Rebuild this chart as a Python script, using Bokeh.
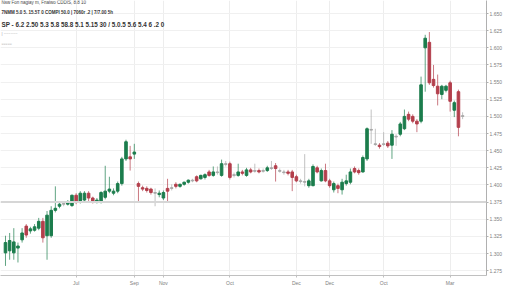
from bokeh.plotting import figure
from bokeh.models import Range1d, FixedTicker, Span, Label, ColumnDataSource, NumeralTickFormatter
from bokeh.embed import file_html
from bokeh.resources import INLINE

# ---- data ----
opens = [1.301,1.304,1.301,1.308,1.320,1.340,1.333,1.334,1.337,1.347,
         1.326,1.326,1.363,1.369,1.372,1.372,1.370,1.385,1.376,1.378,
         1.388,1.381,1.376,1.375,1.382,1.391,1.388,1.391,1.402,1.438,
         1.441,1.445,1.402,1.396,1.395,1.394,1.389,1.386,1.381,1.395,
         1.395,1.401,1.398,1.401,1.404,1.406,1.412,1.409,1.411,1.419,
         1.414,1.418,1.414,1.430,1.431,1.414,1.414,1.419,1.414,1.422,
         1.421,1.421,1.420,1.421,1.424,1.428,1.421,1.419,1.419,1.419,
         1.412,1.406,1.404,1.399,1.399,1.425,1.406,1.421,1.406,1.393,
         1.399,1.393,1.402,1.404,1.424,1.421,1.419,1.438,1.480,1.460,
         1.458,1.460,1.461,1.458,1.470,1.474,1.482,1.503,1.500,1.493,
         1.493,1.600,1.608,1.554,1.544,1.532,1.538,1.549,1.509,1.536,
         1.500]
highs = [1.326,1.330,1.337,1.316,1.337,1.343,1.339,1.343,1.352,1.352,
         1.362,1.369,1.398,1.375,1.376,1.378,1.386,1.388,1.391,1.391,
         1.391,1.383,1.381,1.391,1.428,1.412,1.395,1.405,1.441,1.466,
         1.457,1.460,1.405,1.399,1.398,1.396,1.395,1.392,1.392,1.409,
         1.401,1.404,1.402,1.405,1.408,1.409,1.414,1.415,1.417,1.422,
         1.427,1.427,1.437,1.435,1.434,1.418,1.431,1.422,1.425,1.425,
         1.431,1.424,1.424,1.428,1.435,1.432,1.424,1.422,1.422,1.422,
         1.415,1.409,1.445,1.409,1.430,1.428,1.424,1.431,1.409,1.405,
         1.402,1.409,1.415,1.424,1.427,1.424,1.443,1.484,1.510,1.482,
         1.461,1.477,1.464,1.480,1.474,1.492,1.510,1.507,1.503,1.496,
         1.558,1.619,1.623,1.575,1.561,1.546,1.546,1.552,1.523,1.539,
         1.506]
lows = [1.282,1.291,1.291,1.287,1.316,1.323,1.329,1.332,1.334,1.316,
        1.291,1.323,1.360,1.366,1.369,1.370,1.368,1.372,1.373,1.375,
        1.376,1.373,1.373,1.373,1.379,1.388,1.385,1.388,1.399,1.435,
        1.421,1.438,1.376,1.391,1.389,1.386,1.369,1.382,1.378,1.376,
        1.392,1.395,1.396,1.399,1.402,1.404,1.404,1.408,1.408,1.412,
        1.412,1.415,1.412,1.427,1.408,1.411,1.412,1.414,1.412,1.417,
        1.418,1.417,1.418,1.419,1.422,1.405,1.418,1.415,1.414,1.391,
        1.404,1.402,1.398,1.396,1.398,1.417,1.405,1.404,1.396,1.389,
        1.388,1.386,1.399,1.401,1.417,1.415,1.418,1.435,1.460,1.457,
        1.453,1.457,1.454,1.438,1.457,1.471,1.480,1.493,1.490,1.477,
        1.490,1.536,1.546,1.542,1.516,1.525,1.535,1.507,1.499,1.471,
        1.496]
closes = [1.316,1.319,1.317,1.311,1.330,1.327,1.336,1.339,1.347,1.323,
          1.356,1.363,1.366,1.372,1.373,1.375,1.385,1.375,1.388,1.388,
          1.381,1.376,1.378,1.389,1.391,1.394,1.391,1.402,1.438,1.463,
          1.438,1.448,1.398,1.394,1.392,1.389,1.388,1.388,1.389,1.391,
          1.396,1.398,1.401,1.404,1.407,1.407,1.406,1.414,1.415,1.414,
          1.419,1.419,1.431,1.431,1.411,1.415,1.419,1.417,1.422,1.419,
          1.420,1.419,1.421,1.425,1.425,1.424,1.420,1.418,1.417,1.411,
          1.406,1.405,1.405,1.406,1.427,1.419,1.421,1.406,1.399,1.402,
          1.395,1.404,1.406,1.419,1.419,1.418,1.440,1.482,1.481,1.459,
          1.456,1.459,1.457,1.474,1.471,1.489,1.500,1.496,1.493,1.489,
          1.546,1.614,1.549,1.545,1.533,1.544,1.544,1.522,1.520,1.484,
          1.501]

y_ticks = [1.275,1.300,1.325,1.350,1.375,1.400,1.425,1.450,1.475,
           1.500,1.525,1.550,1.575,1.600,1.625,1.650]
x_label_at = [17, 31, 38, 54, 70, 78, 91, 107]
x_labels = ["Jul", "Sep", "Nov", "Oct", "Dec", "Dec", "Oct", "Mar"]

hline_value = 1.375
tag_values = [1.425, 1.411, 1.399]
tag_colors = ["#8c2a35", "#1d7a4c", "#c0505c"]

header1 = "Nsw Fon nagiay m, Fnalwo CDDIS, 8.8 10"
header2 = "7NMM 5.0 5. 15.5T 0 COMPI 50.0 | 7060r .2 | 7/7.00 5h"
header3 = "SP - 6.2  2.50  5.3  5.8  58.8  5.1  5.15  30 / 5.0.5  5.6  5.4  6 .2 0"

GREEN = "#1c7d4d"
RED = "#b33f4c"
GRAY = "#a8a8a8"

n = len(opens)
idx = list(range(n))
colors = []
for o, c in zip(opens, closes):
    if abs(c - o) < 0.002:
        colors.append(GRAY)
    elif c > o:
        colors.append(GREEN)
    else:
        colors.append(RED)

src = ColumnDataSource(dict(
    x=idx, open=opens, close=closes, high=highs, low=lows,
    top=[max(o, c) for o, c in zip(opens, closes)],
    bottom=[min(o, c) for o, c in zip(opens, closes)],
    color=colors,
))

p = figure(width=505, height=288, output_backend="svg", toolbar_location=None,
           x_range=Range1d(-1.2, 115.75), y_range=Range1d(1.268, 1.669),
           y_axis_location="right", min_border_left=0, min_border_top=0,
           min_border_right=4, min_border_bottom=4)
p.outline_line_color = None
p.background_fill_color = "white"

# grid
p.ygrid.ticker = FixedTicker(ticks=y_ticks)
p.ygrid.grid_line_color = "#f0f0f0"
p.xgrid.ticker = FixedTicker(ticks=x_label_at)
p.xgrid.grid_line_color = "#ededed"

# y axis (right)
ya = p.yaxis[0]
ya.ticker = FixedTicker(ticks=y_ticks)
ya.formatter = NumeralTickFormatter(format="0.000")
ya.major_label_text_font = "Liberation Sans"
ya.major_label_text_font_size = "5px"
ya.major_label_text_color = "#808080"
ya.axis_line_color = "#b0b0b0"
ya.major_tick_line_color = "#b0b0b0"
ya.major_tick_out = 2
ya.major_tick_in = 0
ya.minor_tick_line_color = None
ya.major_label_standoff = 1

# x axis
xa = p.xaxis[0]
xa.ticker = FixedTicker(ticks=x_label_at)
xa.major_label_overrides = {k: v for k, v in zip(x_label_at, x_labels)}
xa.major_label_text_font = "Liberation Sans"
xa.major_label_text_font_size = "5px"
xa.major_label_text_color = "#808080"
xa.axis_line_color = "#c0c0c0"
xa.major_tick_line_color = "#c0c0c0"
xa.major_tick_out = 2
xa.major_tick_in = 0
xa.minor_tick_line_color = None
xa.major_label_standoff = 2

# horizontal price line (thin grey double line)
p.add_layout(Span(location=hline_value, dimension="width", line_color="#d6d6d6", line_width=2))

# candles
p.segment(x0="x", y0="low", x1="x", y1="high", color="color", line_alpha=0.7, line_width=1, source=src)
p.vbar(x="x", width=0.62, top="top", bottom="bottom", fill_color="color", line_color="color", line_width=1, source=src)

# right-side tags
for v, col in zip(tag_values, tag_colors):
    p.add_layout(Label(x=489, x_units="screen", y=v, text=f"{v:.3f}", text_font="Liberation Sans",
                       text_font_size="5px", text_color=col, text_baseline="middle",
                       background_fill_color="#f2f2f2"))
p.add_layout(Label(x=489, x_units="screen", y=hline_value, text=f"{hline_value:.3f}", text_font="Liberation Sans",
                   text_font_size="5px", text_color="#555555", text_baseline="middle",
                   background_fill_color="#dcdcdc"))

# header texts
H = 278
p.add_layout(Label(x=1, y=H - 5, x_units="screen", y_units="screen", text=header1, text_font="Liberation Sans",
                   text_font_size="4.5px", text_color="#444444", text_baseline="middle"))
p.add_layout(Label(x=1, y=H - 15, x_units="screen", y_units="screen", text=header2, text_font="Liberation Sans",
                   text_font_size="4.5px", text_font_style="bold", text_color="#333333", text_baseline="middle"))
p.add_layout(Label(x=1, y=H - 27, x_units="screen", y_units="screen", text=header3, text_font="Liberation Sans",
                   text_font_size="6.3px", text_font_style="bold", text_color="#333333", text_baseline="middle"))
p.add_layout(Label(x=1, y=H - 36, x_units="screen", y_units="screen", text="| ~~~~~~", text_font="Liberation Sans",
                   text_font_size="4px", text_color="#999999", text_baseline="middle"))
p.add_layout(Label(x=1, y=H - 46, x_units="screen", y_units="screen", text="=====", text_font="Liberation Sans",
                   text_font_size="3.5px", text_color="#bbbbbb", text_baseline="middle"))

open("out.html", "w").write(file_html(p, INLINE))
